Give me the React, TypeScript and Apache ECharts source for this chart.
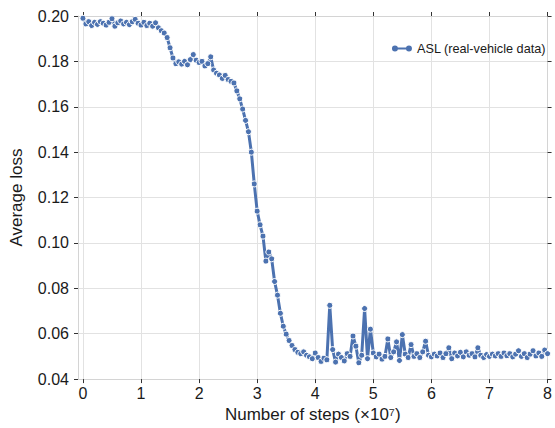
import React, { useEffect, useRef } from "react";
import * as echarts from "echarts";

const X_TICKS = [0, 1, 2, 3, 4, 5, 6, 7, 8];
const SERIES_NAME = "ASL (real-vehicle data)";

const STEPS = [
  0, 0.05, 0.1, 0.15, 0.2, 0.25, 0.3, 0.35, 0.4, 0.45,
  0.5, 0.55, 0.6, 0.65, 0.7, 0.75, 0.8, 0.85, 0.9, 0.95,
  1, 1.05, 1.1, 1.15, 1.2, 1.25, 1.3, 1.35, 1.4, 1.45,
  1.5, 1.55, 1.6, 1.65, 1.7, 1.75, 1.8, 1.85, 1.9, 1.95,
  2, 2.05, 2.1, 2.15, 2.2, 2.25, 2.3, 2.35, 2.4, 2.45,
  2.5, 2.55, 2.6, 2.65, 2.7, 2.75, 2.8, 2.85, 2.9, 2.95,
  3, 3.05, 3.1, 3.15, 3.2, 3.25, 3.3, 3.35, 3.4, 3.45,
  3.5, 3.55, 3.6, 3.65, 3.7, 3.75, 3.8, 3.85, 3.9, 3.95,
  4, 4.05, 4.1, 4.15, 4.2, 4.25, 4.3, 4.35, 4.4, 4.45,
  4.5, 4.55, 4.6, 4.65, 4.7, 4.75, 4.8, 4.85, 4.9, 4.95,
  5, 5.05, 5.1, 5.15, 5.2, 5.25, 5.3, 5.35, 5.4, 5.45,
  5.5, 5.55, 5.6, 5.65, 5.7, 5.75, 5.8, 5.85, 5.9, 5.95,
  6, 6.05, 6.1, 6.15, 6.2, 6.25, 6.3, 6.35, 6.4, 6.45,
  6.5, 6.55, 6.6, 6.65, 6.7, 6.75, 6.8, 6.85, 6.9, 6.95,
  7, 7.05, 7.1, 7.15, 7.2, 7.25, 7.3, 7.35, 7.4, 7.45,
  7.5, 7.55, 7.6, 7.65, 7.7, 7.75, 7.8, 7.85, 7.9, 7.95,
  8,
];

const ASL_LOSS = [
  0.199, 0.1965, 0.1975, 0.1958, 0.1972, 0.1963, 0.1975, 0.1968, 0.196, 0.1972,
  0.1988, 0.1955, 0.197, 0.1978, 0.1965, 0.1972, 0.1962, 0.1975, 0.1985, 0.1968,
  0.196, 0.1972, 0.1958, 0.1968, 0.1955, 0.197, 0.1948, 0.1935, 0.1925, 0.1905,
  0.186, 0.1815, 0.179, 0.1798, 0.1788, 0.18, 0.1785, 0.1808, 0.183, 0.1805,
  0.1795, 0.18, 0.178, 0.179, 0.182, 0.1762, 0.1748, 0.174, 0.1725, 0.1738,
  0.172, 0.1712, 0.1705, 0.167, 0.1635, 0.159, 0.154, 0.149, 0.14, 0.126,
  0.114, 0.108, 0.103, 0.092, 0.096, 0.093, 0.083, 0.077, 0.069, 0.0633,
  0.0598, 0.057, 0.0548, 0.053, 0.0518, 0.0512, 0.052, 0.0505, 0.0498, 0.049,
  0.0515, 0.0495, 0.0478, 0.0492, 0.0485, 0.0725, 0.053, 0.0475, 0.051, 0.0495,
  0.048, 0.0512, 0.05, 0.059, 0.0545, 0.0472, 0.0505, 0.0711, 0.049, 0.062,
  0.0515, 0.0498, 0.051, 0.0488, 0.05, 0.0577, 0.0495, 0.052, 0.0564, 0.0482,
  0.0596, 0.051, 0.0495, 0.0552, 0.05, 0.0512, 0.0495, 0.052, 0.0567, 0.0505,
  0.0498, 0.051, 0.0502, 0.0515, 0.0495, 0.0512, 0.0538, 0.049, 0.0515, 0.0502,
  0.0518, 0.0498, 0.052, 0.0505, 0.0512, 0.0498, 0.0538, 0.0505, 0.0495, 0.0508,
  0.05, 0.051, 0.0502, 0.0512, 0.05, 0.0515, 0.0503, 0.0512, 0.0498, 0.051,
  0.0525, 0.05, 0.0512, 0.0495, 0.051, 0.0525, 0.0502, 0.0515, 0.05, 0.0528,
  0.0512,
];

const BLUE = "#4C72B0";
const FONT = "'Liberation Sans', Arial, Helvetica, sans-serif";

export default function App() {
  const ref = useRef<HTMLDivElement>(null);

  useEffect(() => {
    if (!ref.current) return;
    const chart = echarts.init(ref.current, null, { renderer: "svg" });

    const frameLine = { show: true, onZero: false, lineStyle: { color: "#d4d4d4", width: 1 } };
    const darkTick = { show: true, inside: false, length: 4, lineStyle: { color: "#333333", width: 1 } };
    const gridLine = { show: true, lineStyle: { color: "#e2e2e2", width: 1 } };
    const tickLabel = { color: "#1a1a1a", fontSize: 16, fontFamily: FONT };

    const data = STEPS.map((s, i) => [s, ASL_LOSS[i]]);

    chart.setOption({
      animation: false,
      backgroundColor: "#ffffff",
      textStyle: { fontFamily: FONT },
      grid: { left: 77, right: 6, top: 16, bottom: 45, containLabel: false },
      legend: {
        show: true,
        right: 4,
        top: 37,
        itemWidth: 20,
        itemHeight: 6,
        icon: "path://M0,3 A3,3 0 1,1 6,3 A3,3 0 1,1 0,3 Z M5,2 L15,2 L15,4 L5,4 Z M14,3 A3,3 0 1,1 20,3 A3,3 0 1,1 14,3 Z",
        itemStyle: { color: BLUE, borderWidth: 0 },
        textStyle: { fontSize: 12.7, color: "#1a1a1a", fontFamily: FONT },
        data: [SERIES_NAME],
      },
      xAxis: [
        {
          type: "value",
          position: "bottom",
          min: -0.085,
          max: 8,
          axisLine: frameLine,
          axisTick: { ...darkTick, customValues: X_TICKS },
          axisLabel: { ...tickLabel, margin: 6, customValues: X_TICKS, formatter: (v: number) => String(v) },
          splitLine: gridLine,
          name: "Number of steps (×10⁷)",
          nameLocation: "middle",
          nameGap: 21,
          nameTextStyle: { fontSize: 17, color: "#1a1a1a", fontFamily: FONT },
        },
        {
          type: "value",
          position: "top",
          min: -0.085,
          max: 8,
          axisLine: frameLine,
          axisTick: { ...darkTick, customValues: X_TICKS },
          axisLabel: { show: false, customValues: X_TICKS },
          splitLine: { show: false },
        },
      ],
      yAxis: [
        {
          type: "value",
          position: "left",
          min: 0.04,
          max: 0.2,
          interval: 0.02,
          axisLine: frameLine,
          axisTick: darkTick,
          axisLabel: { ...tickLabel, margin: 9, formatter: (v: number) => v.toFixed(2) },
          splitLine: gridLine,
          name: "Average loss",
          nameLocation: "middle",
          nameGap: 53,
          nameTextStyle: { fontSize: 17, color: "#1a1a1a", fontFamily: FONT },
        },
        {
          type: "value",
          position: "right",
          min: 0.04,
          max: 0.2,
          interval: 0.02,
          axisLine: frameLine,
          axisTick: darkTick,
          axisLabel: { show: false },
          splitLine: { show: false },
        },
      ],
      series: [
        {
          name: SERIES_NAME,
          type: "line",
          xAxisIndex: 0,
          yAxisIndex: 0,
          data,
          showSymbol: true,
          showAllSymbol: true,
          symbol: "circle",
          symbolSize: 6,
          lineStyle: { color: BLUE, width: 3 },
          itemStyle: { color: BLUE, borderColor: "#ffffff", borderWidth: 1 },
          emphasis: { disabled: true },
          z: 3,
        },
      ],
    });

    return () => chart.dispose();
  }, []);

  return (
    <div
      ref={ref}
      style={{ position: "absolute", left: 0, top: 0, width: 555, height: 428 }}
    />
  );
}
